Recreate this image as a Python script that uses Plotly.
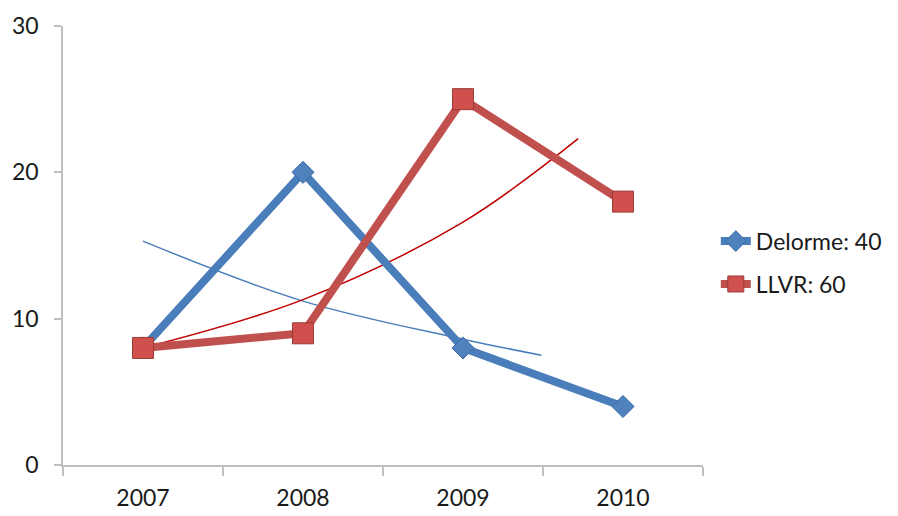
import plotly.graph_objects as go

years = ["2007", "2008", "2009", "2010"]
delorme = [8, 20, 8, 4]
llvr = [8, 9, 25, 18]
names = ["Delorme: 40", "LLVR: 60"]

# trend lines (x in category index units)
delorme_trend_x = [0, 1, 2, 2.49]
delorme_trend_y = [15.3, 11.2, 8.6, 7.5]
llvr_trend_x = [0, 1, 2, 2.72]
llvr_trend_y = [8.0, 11.3, 16.6, 22.3]

xi = list(range(len(years)))
boundaries = [i - 0.5 for i in range(len(years) + 1)]

font = "Lato, 'Open Sans', sans-serif"

fig = go.Figure()

fig.add_trace(go.Scatter(
    x=delorme_trend_x, y=delorme_trend_y, mode="lines", line_shape="spline",
    line=dict(color="#4A7EBB", width=1.5), showlegend=False, hoverinfo="skip"))
fig.add_trace(go.Scatter(
    x=llvr_trend_x, y=llvr_trend_y, mode="lines", line_shape="spline",
    line=dict(color="#C00000", width=1.5), showlegend=False, hoverinfo="skip"))

fig.add_trace(go.Scatter(
    x=xi, y=delorme, name=names[0], mode="lines+markers", legendgroup="a",
    line=dict(color="#4A7EBB", width=8),
    marker=dict(symbol="diamond", size=17, color="#4F81BD",
                line=dict(color="#3A6AA8", width=1))))
fig.add_trace(go.Scatter(
    x=xi, y=llvr, name=names[1], mode="lines+markers", legendgroup="b",
    line=dict(color="#C0504D", width=8),
    marker=dict(symbol="square", size=21, color="#D0504D",
                line=dict(color="#9C3B38", width=1))))

fig.update_layout(
    width=898, height=516,
    margin=dict(l=63, r=195, t=26, b=51, autoexpand=False),
    paper_bgcolor="white", plot_bgcolor="white",
    font=dict(family=font, size=23, color="#1a1a1a"),
    legend=dict(x=1.02, y=0.461, yanchor="middle", xanchor="left",
                font=dict(size=23), tracegroupgap=10, traceorder="grouped",
                bgcolor="rgba(0,0,0,0)"),
    xaxis=dict(range=[-0.5, 3.5], tickmode="array", tickvals=xi, ticktext=years,
               ticks="", showgrid=False, zeroline=False, showline=True,
               linecolor="#BFBFBF", linewidth=1.5, ticklabelstandoff=12,
               automargin=False,
               minor=dict(tickmode="array", tickvals=boundaries, ticks="outside",
                          ticklen=9, tickcolor="#BFBFBF", tickwidth=1.5, showgrid=False),
               fixedrange=True),
    yaxis=dict(range=[0, 30], tickvals=[0, 10, 20, 30], ticks="outside",
               ticklen=7, tickcolor="#BFBFBF", tickwidth=1.5,
               showgrid=False, zeroline=False, showline=True,
               linecolor="#BFBFBF", linewidth=1.5, ticklabelstandoff=11,
               automargin=False, fixedrange=True),
)

fig.write_html("out.html", config={"displayModeBar": False},
               post_script="document.body.style.margin='0';document.body.style.overflow='hidden';")
